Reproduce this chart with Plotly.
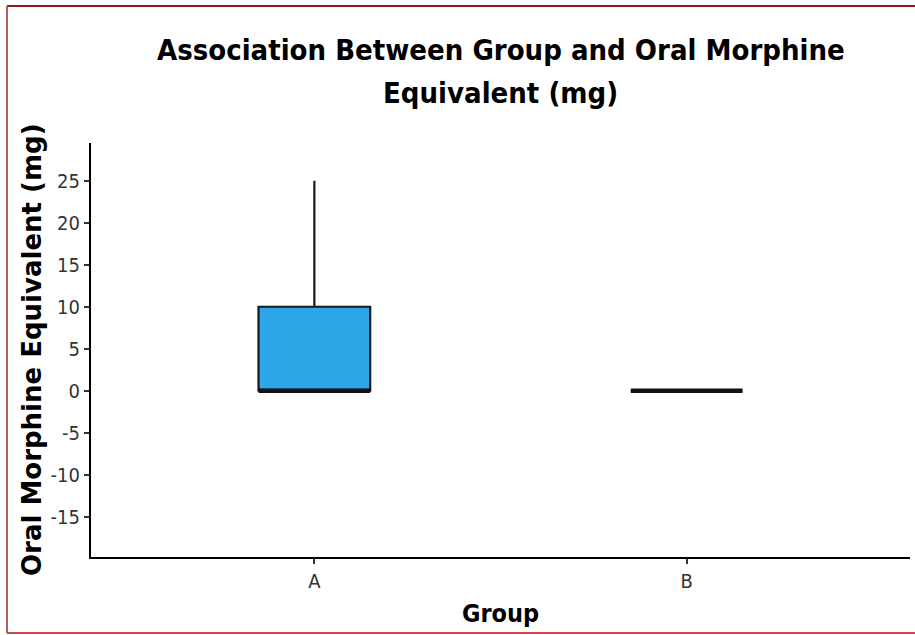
import plotly.graph_objects as go

groups = ["A", "B"]
q1 = [0, 0]
median = [0, 0]
q3 = [10, 0]
lower_fence = [0, 0]
upper_fence = [25, 0]
y_ticks = [-15, -10, -5, 0, 5, 10, 15, 20, 25]
y_tick_text = ["-15", "-10", "-5", "0", "5", "10", "15", "20", "25"]
title_lines = ["Association Between Group and Oral Morphine", "Equivalent (mg)"]
x_title = "Group"
y_title = "Oral Morphine Equivalent (mg)"

FONT = "DejaVu Sans Condensed, DejaVu Sans"
half_w = 0.15

fig = go.Figure()
for i, g in enumerate(groups):
    fig.add_trace(go.Box(
        x=[i], q1=[q1[i]], median=[median[i]], q3=[q3[i]],
        lowerfence=[lower_fence[i]], upperfence=[upper_fence[i]],
        width=2 * half_w, fillcolor="#2CA8E8",
        line=dict(color="#1a1a1a", width=2.2),
        whiskerwidth=0, boxpoints=False, showlegend=False, name=g,
        hoverinfo="skip",
    ))
    fig.add_trace(go.Scatter(
        x=[i - half_w, i + half_w], y=[median[i], median[i]],
        mode="lines", line=dict(color="#111111", width=4.5),
        showlegend=False, hoverinfo="skip",
    ))

L, R, T, B = 91, 5, 143, 78
W, H = 915, 635
pw, ph = W - L - R, H - T - B

def px_x(x):
    return (x - L) / pw

def px_y(y):
    return (H - B - y) / ph

fig.update_layout(
    width=W, height=H,
    margin=dict(l=L, r=R, t=T, b=B),
    paper_bgcolor="white", plot_bgcolor="white",
    xaxis=dict(
        range=[-0.6, 1.6], tickvals=list(range(len(groups))), ticktext=groups,
        showline=True, linecolor="black", linewidth=2,
        ticks="outside", ticklen=5, tickwidth=1.5, tickcolor="#333",
        showgrid=False, zeroline=False,
        tickfont=dict(family=FONT, size=20, color="#333"),
    ),
    yaxis=dict(
        range=[-19.8, 29.5], tickvals=y_ticks, ticktext=y_tick_text,
        showline=True, linecolor="black", linewidth=2,
        ticks="outside", ticklen=5, tickwidth=1.5, tickcolor="#333",
        showgrid=False, zeroline=False,
        tickfont=dict(family=FONT, size=20, color="#333"),
    ),
)

title_font = dict(family=FONT, size=29, color="black", weight="bold")
for line, yc in zip(title_lines, [50, 93]):
    fig.add_annotation(text=line, xref="paper", yref="paper",
                       x=0.5, y=px_y(yc), xanchor="center", yanchor="middle",
                       showarrow=False, font=title_font)
fig.add_annotation(text=x_title, xref="paper", yref="paper",
                   x=px_x(500), y=px_y(613), xanchor="center", yanchor="middle",
                   showarrow=False, font=dict(family=FONT, size=25, color="black", weight="bold"))
fig.add_annotation(text=y_title, xref="paper", yref="paper", textangle=-90,
                   x=px_x(32), y=px_y(350), xanchor="center", yanchor="middle",
                   showarrow=False, font=dict(family="DejaVu Sans", size=26, color="black", weight="bold"))

# outer frame of the image
fig.add_shape(type="line", xref="paper", yref="paper",
              x0=px_x(7), x1=px_x(930), y0=px_y(6), y1=px_y(6),
              line=dict(color="#8B1A1A", width=2))
fig.add_shape(type="line", xref="paper", yref="paper",
              x0=px_x(7), x1=px_x(7), y0=px_y(6), y1=px_y(633),
              line=dict(color="#B85C5C", width=2))
fig.add_shape(type="line", xref="paper", yref="paper",
              x0=px_x(7), x1=px_x(930), y0=px_y(633), y1=px_y(633),
              line=dict(color="#D04545", width=2))

fig.write_html("out.html")
